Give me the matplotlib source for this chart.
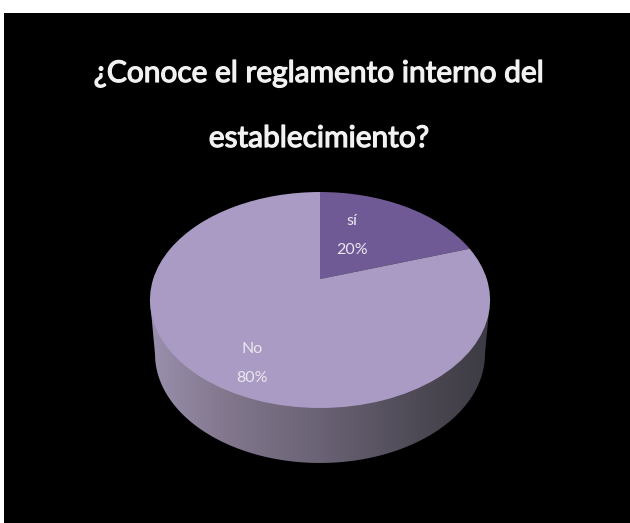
import numpy as np
import matplotlib
matplotlib.use("Agg")
import matplotlib.pyplot as plt
import matplotlib.patheffects as pe
from matplotlib.colors import LinearSegmentedColormap
from matplotlib.patches import Rectangle, PathPatch
from matplotlib.path import Path
from matplotlib.transforms import Transform

title_lines = ["¿Conoce el reglamento interno del", "establecimiento?"]
categories = ["sí", "No"]
values = [20, 80]
slice_colors = ["#6f5a96", "#a99bc3"]


class Perspective(Transform):
    """Tilted disc: maps the unit pie onto the slide's 3-D ellipse (pixels)."""
    input_dims = output_dims = 2
    is_separable = False
    has_inverse = False

    def transform_non_affine(self, xy):
        xy = np.asarray(xy, float)
        s = 1 / (1 + 0.1945 * xy[:, 1])
        return np.column_stack([320 + 166.8 * xy[:, 0] * s, 279 - 103.9 * xy[:, 1] * s])


fig = plt.figure(figsize=(6.30, 5.23), dpi=100, facecolor="white")
ax = fig.add_axes([0, 0, 1, 1])
wedges, _ = ax.pie(values, colors=slice_colors, startangle=90, counterclock=False, radius=1)
ax.set_aspect("auto")

# slide background
ax.add_patch(Rectangle((4, 13), 626, 510, fc="black", ec="none", zorder=0))

# side wall of the 3-D pie, lit from the left
t = np.radians(np.linspace(180, 360, 181))
lower = np.column_stack([320 + 165 * np.cos(t), 354 - 109 * np.sin(t)])
wall = np.vstack([[[150, 300]], lower, [[490, 300]], [[150, 300]]])
side_cmap = LinearSegmentedColormap.from_list(
    "side", [(0, "#9a90ae"), (0.2, "#84798f"), (0.5, "#6a6275"), (0.8, "#4d4954"), (1, "#3c3a42")])
img = ax.imshow(np.linspace(0, 1, 256)[None, :], extent=(150, 490, 470, 290), cmap=side_cmap,
                aspect="auto", zorder=1)
clip = PathPatch(Path(wall), transform=ax.transData, fc="none", ec="none")
ax.add_patch(clip)
img.set_clip_path(clip)

proj = Perspective() + ax.transData
for w in wedges:
    w.set_transform(proj)
    w.set_zorder(2)
    w.set_edgecolor("none")

ax.set_xlim(0, 630)
ax.set_ylim(523, 0)
ax.axis("off")

for line, baseline in zip(title_lines, [82, 147]):
    ax.text(319, baseline, line, ha="center", va="baseline", color="#f2f2f2", family="Lato",
            fontsize=21.5, zorder=3,
            path_effects=[pe.withStroke(linewidth=0.9, foreground="#f2f2f2")])

label_pos = [(352, 225), (252, 353), (352, 254), (252, 382)]
for i, (name, val) in enumerate(zip(categories, values)):
    ax.text(*label_pos[i], name, ha="center", va="baseline", color="#ebe7f0", family="Lato",
            fontsize=11.5, zorder=3)
    ax.text(*label_pos[i + 2], f"{val}%", ha="center", va="baseline", color="#ebe7f0", family="Lato",
            fontsize=11.5, zorder=3)

fig.savefig("out.png", dpi=100, facecolor="white")
